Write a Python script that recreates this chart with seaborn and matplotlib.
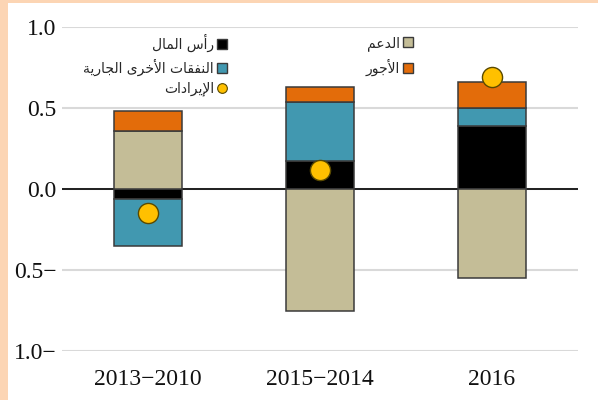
import matplotlib
matplotlib.use("Agg")
import matplotlib.pyplot as plt
from matplotlib.lines import Line2D
from matplotlib.patches import Rectangle
import numpy as np
import pandas as pd
import seaborn as sns

# ---------------- data ----------------
categories = ["2013−2010", "2015−2014", "2016"]
capital = [-0.06, 0.17, 0.39]          # رأس المال
other_current = [-0.29, 0.37, 0.11]    # النفقات الأخرى الجارية
subsidies = [0.36, -0.75, -0.55]       # الدعم
wages = [0.12, 0.09, 0.16]             # الأجور
revenues = [-0.15, 0.12, 0.69]         # الإيرادات
ytick_values = [-1.0, -0.5, 0.0, 0.5, 1.0]
ytick_labels = ["1.0−", "0.5−", "0.0", "0.5", "1.0"]

series_names = ["رأس المال", "النفقات الأخرى الجارية", "الدعم", "الأجور"]
revenue_name = "الإيرادات"

# ---------------- minimal Arabic shaping (presentation forms) ----------------
FORMS = {
    'ا': ('\uFE8D', '\uFE8E', None, None),
    'أ': ('\uFE83', '\uFE84', None, None),
    'إ': ('\uFE87', '\uFE88', None, None),
    'ة': ('\uFE93', '\uFE94', None, None),
    'ت': ('\uFE95', '\uFE96', '\uFE97', '\uFE98'),
    'ج': ('\uFE9D', '\uFE9E', '\uFE9F', '\uFEA0'),
    'خ': ('\uFEA5', '\uFEA6', '\uFEA7', '\uFEA8'),
    'د': ('\uFEA9', '\uFEAA', None, None),
    'ر': ('\uFEAD', '\uFEAE', None, None),
    'س': ('\uFEB1', '\uFEB2', '\uFEB3', '\uFEB4'),
    'ع': ('\uFEC9', '\uFECA', '\uFECB', '\uFECC'),
    'ف': ('\uFED1', '\uFED2', '\uFED3', '\uFED4'),
    'ق': ('\uFED5', '\uFED6', '\uFED7', '\uFED8'),
    'ل': ('\uFEDD', '\uFEDE', '\uFEDF', '\uFEE0'),
    'م': ('\uFEE1', '\uFEE2', '\uFEE3', '\uFEE4'),
    'ن': ('\uFEE5', '\uFEE6', '\uFEE7', '\uFEE8'),
    'و': ('\uFEED', '\uFEEE', None, None),
    'ى': ('\uFEEF', '\uFEF0', None, None),
    'ي': ('\uFEF1', '\uFEF2', '\uFEF3', '\uFEF4'),
}
LAM_ALEF = {'ا': ('\uFEFB', '\uFEFC'), 'أ': ('\uFEF7', '\uFEF8'),
            'إ': ('\uFEF9', '\uFEFA')}


def shape(text):
    toks = []
    i = 0
    while i < len(text):
        c = text[i]
        if c == 'ل' and i + 1 < len(text) and text[i + 1] in LAM_ALEF:
            toks.append(('LA', text[i + 1]))
            i += 2
        else:
            toks.append(('C', c))
            i += 1

    def joins_fwd(t):
        if t is None or t[0] == 'LA':
            return False
        f = FORMS.get(t[1])
        return f is not None and f[2] is not None

    def is_letter(t):
        return t is not None and (t[0] == 'LA' or t[1] in FORMS)

    out = []
    for k, t in enumerate(toks):
        prev = toks[k - 1] if k > 0 else None
        nxt = toks[k + 1] if k + 1 < len(toks) else None
        jp = joins_fwd(prev)
        if t[0] == 'LA':
            iso, fin = LAM_ALEF[t[1]]
            out.append(fin if jp else iso)
            continue
        if t[1] not in FORMS:
            out.append(t[1])
            continue
        iso, fin, ini, med = FORMS[t[1]]
        jn = ini is not None and is_letter(nxt)
        if jp and jn:
            out.append(med)
        elif jp:
            out.append(fin)
        elif jn:
            out.append(ini)
        else:
            out.append(iso)
    return ''.join(out)[::-1]


# ---------------- figure ----------------
sns.set_style("white")
colors = {"رأس المال": "#000000", "النفقات الأخرى الجارية": "#4198B0",
          "الدعم": "#C4BD97", "الأجور": "#E36C0A"}
rev_color = "#FFC000"
edge = "#3A3A3A"

fig = plt.figure(figsize=(5.98, 4.0), dpi=100)
fig.patch.set_facecolor("#FCD5B4")
fig.add_artist(Rectangle((8 / 598, 0), 1, (400 - 3) / 400,
                         transform=fig.transFigure, facecolor="white",
                         edgecolor="none", zorder=-10))
ax = fig.add_axes([62 / 598, 49 / 400, 516 / 598, 324 / 400])
ax.set_facecolor("none")

values = {"رأس المال": capital, "النفقات الأخرى الجارية": other_current,
          "الدعم": subsidies, "الأجور": wages}
pos_base = np.zeros(len(categories))
neg_base = np.zeros(len(categories))
for name in series_names:
    v = np.array(values[name], dtype=float)
    bottoms = np.where(v >= 0, pos_base, neg_base)
    df = pd.DataFrame({"cat": categories, "val": v})
    sns.barplot(data=df, x="cat", y="val", order=categories, ax=ax,
                color=colors[name], saturation=1, width=0.4,
                errorbar=None, bottom=bottoms, edgecolor=edge,
                linewidth=1.1, zorder=3)
    pos_base = pos_base + np.where(v >= 0, v, 0)
    neg_base = neg_base + np.where(v < 0, v, 0)

rdf = pd.DataFrame({"cat": categories, "rev": revenues})
sns.stripplot(data=rdf, x="cat", y="rev", order=categories, ax=ax,
              jitter=False, size=14.5, color=rev_color, edgecolor="#5a4a00",
              linewidth=1, zorder=5)

ax.set_xlim(-0.5, len(categories) - 0.5)
ax.set_ylim(-1.0, 1.0)
ax.set_yticks(ytick_values)
ax.set_yticklabels(ytick_labels)
ax.yaxis.grid(True, color="#D9D9D9", linewidth=1.5, zorder=0)
ax.set_axisbelow(True)
ax.axhline(0, color="black", linewidth=1.2, zorder=2)
for s in ax.spines.values():
    s.set_visible(False)
ax.set_xlabel("")
ax.set_ylabel("")
ax.tick_params(axis="both", length=0)
ax.tick_params(axis="y", pad=4)
ax.tick_params(axis="x", pad=13)
for lab in ax.get_xticklabels() + ax.get_yticklabels():
    lab.set_fontfamily("Liberation Serif")
    lab.set_fontsize(17)
    lab.set_color("#111111")
for p in ax.collections:
    p.set_clip_on(False)

# ---------------- legends ----------------
def sq(c):
    return Line2D([], [], linestyle="none", marker="s", markersize=7,
                  markerfacecolor=c, markeredgecolor=edge, markeredgewidth=1)

left_handles = [sq(colors["رأس المال"]), sq(colors["النفقات الأخرى الجارية"]),
                Line2D([], [], linestyle="none", marker="o", markersize=7,
                       markerfacecolor=rev_color, markeredgecolor="#5a4a00",
                       markeredgewidth=0.8)]
left_labels = [shape("رأس المال"), shape("النفقات الأخرى الجارية"),
               shape(revenue_name)]
right_handles = [sq(colors["الدعم"]), sq(colors["الأجور"])]
right_labels = [shape("الدعم"), shape("الأجور")]

common = dict(frameon=False, markerfirst=False, handlelength=0.7,
              handletextpad=0.25, borderpad=0, borderaxespad=0,
              bbox_transform=fig.transFigure,
              loc="upper right", prop={"family": "DejaVu Sans", "size": 10})
leg1 = ax.legend(right_handles, right_labels, labelspacing=0.55,
                 bbox_to_anchor=(413 / 598, 364 / 400), **common)
ax.add_artist(leg1)
leg2 = ax.legend(left_handles, left_labels, labelspacing=0.45,
                 bbox_to_anchor=(227 / 598, 366 / 400), **common)

fig.savefig("out.png", dpi=100, facecolor=fig.get_facecolor())
